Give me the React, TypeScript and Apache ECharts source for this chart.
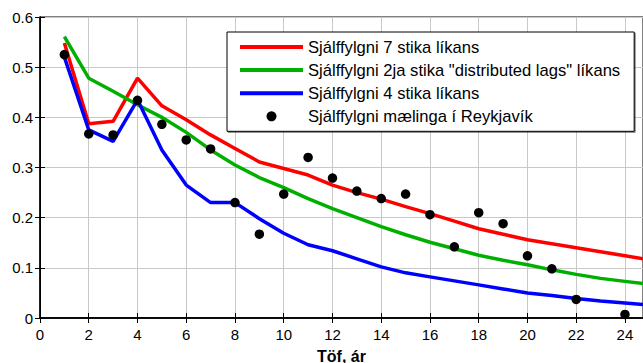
import React, { useEffect, useRef } from "react";
import * as echarts from "echarts";

const lags = [1, 2, 3, 4, 5, 6, 7, 8, 9, 10, 11, 12, 13, 14, 15, 16, 17, 18, 19, 20, 21, 22, 23, 24, 25];
const red7 = [0.548, 0.387, 0.392, 0.478, 0.423, 0.395, 0.365, 0.338, 0.311, 0.298, 0.285, 0.265, 0.25, 0.237, 0.222, 0.208, 0.193, 0.178, 0.167, 0.156, 0.148, 0.14, 0.132, 0.124, 0.116];
const green2 = [0.561, 0.478, 0.452, 0.425, 0.4, 0.37, 0.335, 0.305, 0.28, 0.26, 0.238, 0.218, 0.2, 0.182, 0.166, 0.151, 0.138, 0.125, 0.115, 0.106, 0.096, 0.087, 0.079, 0.073, 0.067];
const blue4 = [0.52, 0.375, 0.352, 0.435, 0.335, 0.265, 0.23, 0.23, 0.198, 0.169, 0.146, 0.134, 0.118, 0.102, 0.09, 0.082, 0.074, 0.066, 0.058, 0.05, 0.045, 0.039, 0.034, 0.03, 0.026];
const measLags = [1, 2, 3, 4, 5, 6, 7, 8, 9, 10, 11, 12, 13, 14, 15, 16, 17, 18, 19, 20, 21, 22, 24];
const measured = [0.525, 0.367, 0.365, 0.434, 0.386, 0.355, 0.337, 0.23, 0.167, 0.247, 0.32, 0.279, 0.253, 0.238, 0.247, 0.206, 0.142, 0.21, 0.188, 0.124, 0.098, 0.037, 0.007];
const names = [
  "Sjálffylgni 7 stika líkans",
  'Sjálffylgni 2ja stika "distributed lags" líkans',
  "Sjálffylgni 4 stika líkans",
  "Sjálffylgni mælinga í Reykjavík",
];

const FONT = "'Liberation Sans', Arial, Helvetica, sans-serif";
const LINE_ICON = "path://M0,0H63V4H0Z";

export default function App() {
  const ref = useRef<HTMLDivElement>(null);
  useEffect(() => {
    if (!ref.current) return;
    const chart = echarts.init(ref.current, null, { renderer: "svg" });
    const pair = (xs: number[], ys: number[]) => xs.map((x, i) => [x, ys[i]]);
    const lineSeries = (name: string, data: number[], color: string) => ({
      name,
      type: "line",
      data: pair(lags, data),
      symbol: "none",
      showSymbol: false,
      lineStyle: { color, width: 3.5 },
      itemStyle: { color },
    });
    const xBase = { type: "value", min: 0, max: 24.74, interval: 2 };
    const yBase = { type: "value", min: 0, max: 0.6, interval: 0.1 };
    chart.setOption({
      animation: false,
      backgroundColor: "#fff",
      textStyle: { fontFamily: FONT },
      grid: { left: 40, top: 17, right: 0, bottom: 45, show: true, borderColor: "#000", borderWidth: 1, outerBoundsMode: "none", containLabel: false },
      xAxis: [
        {
          ...xBase,
          position: "bottom",
          name: "Töf, ár",
          nameLocation: "middle",
          nameGap: 30,
          nameTextStyle: { fontFamily: FONT, fontWeight: "bold", fontSize: 16, color: "#000" },
          axisLine: { show: true, lineStyle: { color: "#000", width: 1.5 } },
          axisTick: { show: true, inside: true, length: 5, lineStyle: { color: "#000" } },
          axisLabel: { show: true, showMaxLabel: false, fontSize: 15, color: "#000", margin: 9, fontFamily: FONT },
          splitLine: { show: true, lineStyle: { color: "#c8c8c8", width: 1 } },
        },
        {
          ...xBase,
          position: "top",
          axisLine: { show: true, lineStyle: { color: "#000", width: 1.5 } },
          axisTick: { show: true, inside: true, length: 5, lineStyle: { color: "#000" } },
          axisLabel: { show: false },
          splitLine: { show: false },
        },
      ],
      yAxis: [
        {
          ...yBase,
          position: "left",
          axisLine: { show: true, lineStyle: { color: "#000", width: 1.5 } },
          axisTick: { show: true, inside: true, length: 5, lineStyle: { color: "#000" } },
          axisLabel: { fontSize: 15, color: "#000", margin: 7, fontFamily: FONT, formatter: (v: number) => String(Math.round(v * 10) / 10) },
          splitLine: { show: true, lineStyle: { color: "#c8c8c8", width: 1 } },
        },
        {
          ...yBase,
          position: "right",
          axisLine: { show: true, lineStyle: { color: "#000" } },
          axisTick: { show: true, inside: true, length: 5, lineStyle: { color: "#000" } },
          axisLabel: { show: false },
          splitLine: { show: false },
        },
      ],
      legend: {
        orient: "vertical",
        left: 227,
        top: 32,
        padding: [6, 14, 6, 13],
        itemWidth: 63,
        itemHeight: 10,
        itemGap: 5.1,
        itemTextGap: 7,
        borderColor: "#000",
        borderWidth: 1,
        backgroundColor: "#fff",
        shadowColor: "rgba(0,0,0,0.5)",
        shadowOffsetX: 1,
        shadowOffsetY: 1,
        textStyle: { fontFamily: FONT, fontSize: 16.6, color: "#000", lineHeight: 18 },
        data: [
          { name: names[0], icon: LINE_ICON },
          { name: names[1], icon: LINE_ICON },
          { name: names[2], icon: LINE_ICON },
          { name: names[3], icon: "circle", itemStyle: { color: "#000", opacity: 1 } },
        ],
      },
      series: [
        lineSeries(names[0], red7, "#ff0000"),
        lineSeries(names[1], green2, "#00b000"),
        lineSeries(names[2], blue4, "#0000ff"),
        {
          name: names[3],
          type: "scatter",
          data: pair(measLags, measured),
          symbol: "circle",
          symbolSize: 9.5,
          itemStyle: { color: "#000", opacity: 1 },
          z: 5,
        },
      ],
    });
    return () => chart.dispose();
  }, []);
  return <div ref={ref} style={{ position: "fixed", left: 0, top: 0, width: 643, height: 363 }} />;
}
